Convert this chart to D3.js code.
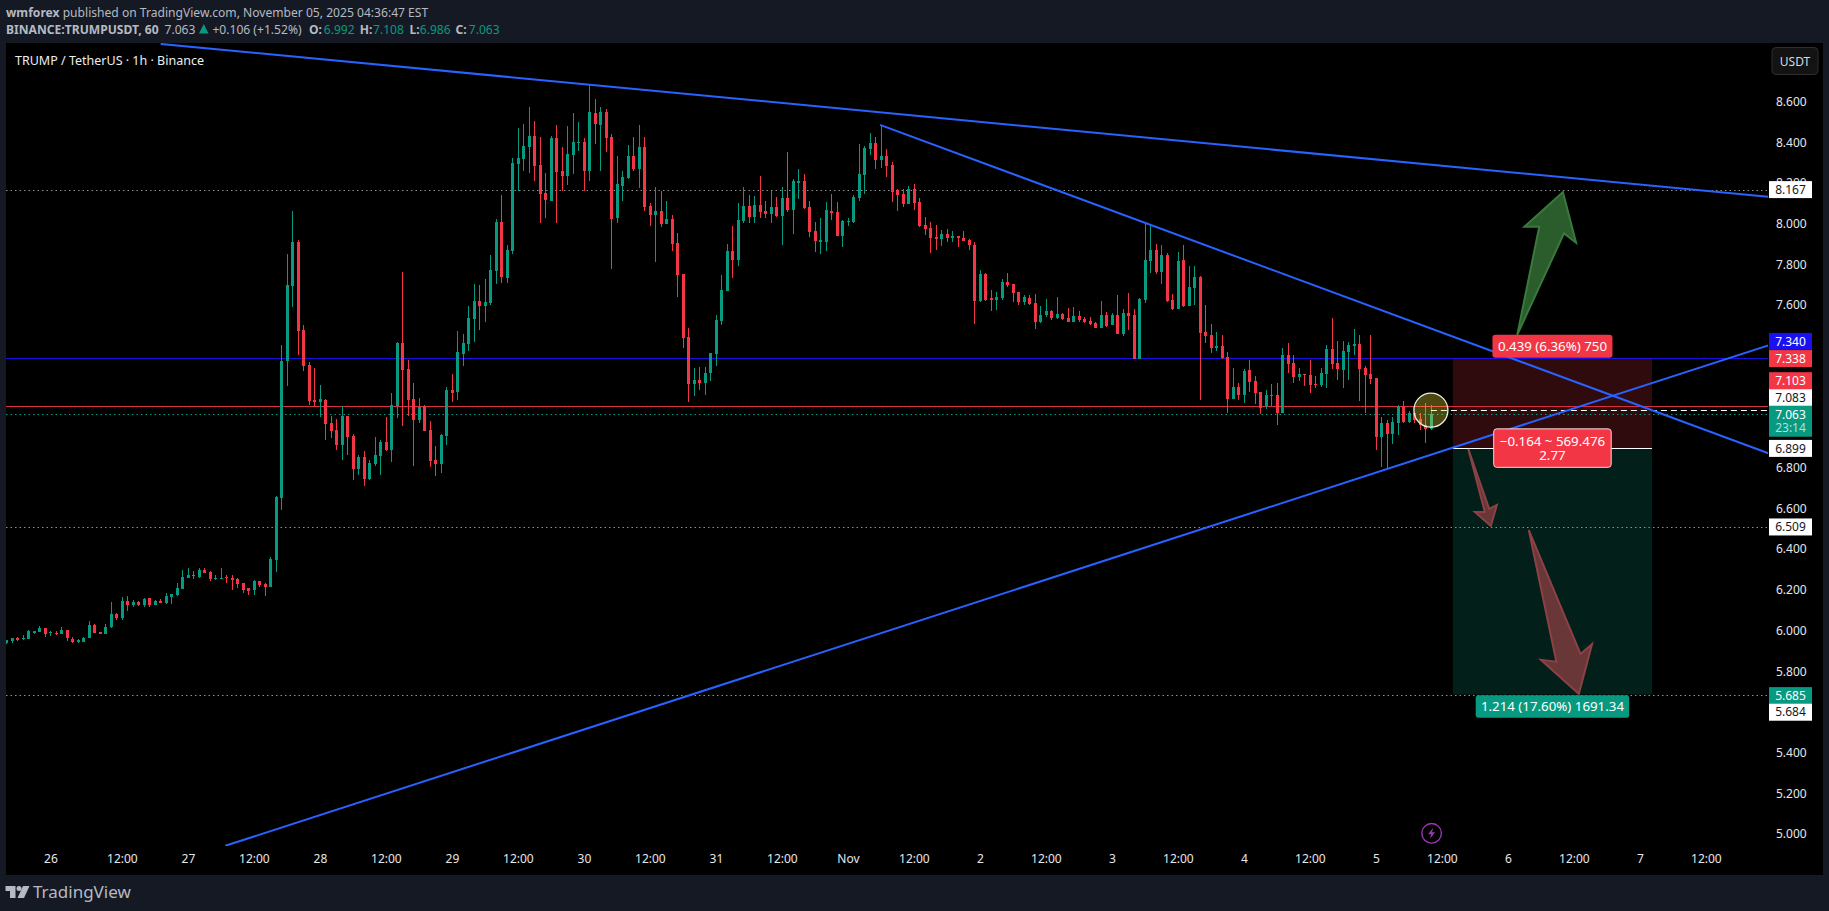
<!DOCTYPE html>
<html>
<head>
<meta charset="utf-8">
<title>TRUMP / TetherUS</title>
<script src="https://cdn.jsdelivr.net/npm/d3@7"></script>
<style>
  html, body { margin: 0; padding: 0; background: #151924; overflow: hidden; }
  text { font-family: "Noto Sans", sans-serif; }
  svg { display: block; }
</style>
</head>
<body>
<div id="chart"></div>
<script>
// hourly candles, oldest first
var opens = [
  5.939,5.948,5.963,5.959,5.959,5.994,5.994,6.014,5.988,5.990,
  5.984,6.003,5.959,5.948,5.944,5.961,6.028,5.994,5.984,6.017,
  6.081,6.063,6.146,6.126,6.141,6.126,6.161,6.126,6.146,6.135,
  6.167,6.176,6.205,6.259,6.274,6.263,6.297,6.288,6.254,6.254,
  6.265,6.259,6.254,6.234,6.210,6.199,6.245,6.228,6.214,6.346,
  6.651,7.324,7.693,7.909,7.477,7.306,7.133,7.122,7.133,7.020,
  6.986,6.911,7.055,6.957,6.793,6.853,6.744,6.818,6.858,6.926,
  6.888,7.102,7.413,7.286,7.139,7.035,7.102,6.986,6.839,6.818,
  6.957,7.182,7.172,7.359,7.408,7.531,7.620,7.595,7.610,7.767,
  8.008,7.733,7.865,8.293,8.317,8.376,8.431,8.288,8.150,8.111,
  8.421,8.259,8.234,8.337,8.396,8.401,8.259,8.543,8.485,8.548,
  8.426,8.027,8.185,8.224,8.332,8.268,8.376,8.087,8.042,8.062,
  7.998,8.023,7.905,7.752,7.443,7.212,7.231,7.217,7.266,7.359,
  7.521,7.669,7.865,7.821,8.013,8.087,8.032,8.091,8.062,8.047,
  8.082,8.037,8.126,8.067,8.204,8.209,8.082,7.964,7.914,7.909,
  8.062,8.057,7.939,8.008,8.008,8.126,8.239,8.367,8.396,8.312,
  8.332,8.288,8.165,8.145,8.096,8.170,8.106,7.993,7.978,7.934,
  7.924,7.949,7.929,7.939,7.929,7.919,7.895,7.620,7.752,7.634,
  7.625,7.634,7.713,7.703,7.664,7.615,7.634,7.610,7.516,7.551,
  7.571,7.536,7.556,7.536,7.516,7.546,7.531,7.521,7.511,7.487,
  7.551,7.502,7.551,7.457,7.561,7.551,7.336,7.625,7.816,7.870,
  7.762,7.846,7.625,7.580,7.821,7.595,7.684,7.738,7.467,7.453,
  7.389,7.398,7.344,7.138,7.197,7.158,7.281,7.227,7.172,7.104,
  7.158,7.158,7.069,7.354,7.315,7.246,7.261,7.256,7.212,7.207,
  7.261,7.384,7.315,7.281,7.369,7.398,7.408,7.290,7.261,7.241,
  6.951,7.020,6.966,7.020,7.104,7.025,7.068,7.040,7.009,6.992
];
var highs = [
  5.954,5.963,5.970,5.979,6.003,5.997,6.023,6.014,5.999,5.997,
  6.015,6.003,5.968,5.959,5.968,6.045,6.032,5.994,6.032,6.141,
  6.086,6.165,6.170,6.150,6.146,6.161,6.161,6.150,6.156,6.185,
  6.179,6.234,6.297,6.308,6.292,6.308,6.308,6.292,6.274,6.308,
  6.274,6.274,6.259,6.234,6.210,6.248,6.245,6.236,6.361,6.660,
  7.404,7.851,8.062,7.918,7.502,7.320,7.289,7.206,7.139,7.055,
  7.040,7.102,7.055,6.966,6.862,6.882,6.839,6.951,6.937,7.049,
  7.167,7.418,7.762,7.329,7.217,7.142,7.107,7.029,6.907,6.966,
  7.197,7.261,7.472,7.458,7.595,7.703,7.698,7.728,7.846,8.023,
  8.141,7.895,8.322,8.470,8.489,8.573,8.504,8.426,8.249,8.431,
  8.485,8.376,8.480,8.543,8.499,8.421,8.686,8.612,8.573,8.563,
  8.440,8.332,8.259,8.386,8.426,8.485,8.426,8.101,8.180,8.160,
  8.111,8.042,7.954,7.752,7.487,7.290,7.295,7.295,7.364,7.551,
  7.747,7.900,7.988,8.101,8.180,8.141,8.136,8.234,8.111,8.160,
  8.131,8.180,8.352,8.219,8.268,8.244,8.111,8.008,8.027,8.106,
  8.145,8.106,8.018,8.027,8.141,8.391,8.381,8.445,8.426,8.485,
  8.367,8.303,8.170,8.170,8.185,8.195,8.126,8.032,8.008,7.993,
  7.969,7.973,7.964,7.939,7.964,7.924,7.909,7.772,7.757,7.674,
  7.664,7.728,7.757,7.703,7.664,7.649,7.649,7.654,7.595,7.629,
  7.575,7.639,7.561,7.585,7.590,7.571,7.541,7.541,7.516,7.620,
  7.566,7.561,7.649,7.580,7.659,7.580,7.634,7.998,7.993,7.900,
  7.895,7.855,7.654,7.860,7.895,7.792,7.792,7.743,7.600,7.507,
  7.467,7.453,7.369,7.290,7.217,7.285,7.330,7.251,7.172,7.182,
  7.212,7.217,7.389,7.413,7.354,7.290,7.261,7.330,7.251,7.290,
  7.403,7.536,7.423,7.423,7.418,7.482,7.453,7.300,7.453,7.241,
  7.050,7.035,7.050,7.109,7.128,7.079,7.076,7.068,7.117,7.108
];
var lows = [
  5.936,5.939,5.948,5.954,5.959,5.984,5.994,5.970,5.974,5.979,
  5.984,5.950,5.941,5.941,5.944,5.961,5.988,5.981,5.984,6.010,
  6.054,6.052,6.095,6.114,6.123,6.116,6.117,6.126,6.137,6.132,
  6.132,6.172,6.205,6.259,6.254,6.259,6.283,6.245,6.248,6.254,
  6.236,6.199,6.210,6.186,6.176,6.176,6.216,6.170,6.214,6.288,
  6.593,7.202,7.589,7.355,7.275,7.107,7.102,7.049,6.937,6.946,
  6.888,6.839,6.862,6.740,6.764,6.709,6.740,6.809,6.764,6.882,
  6.827,7.044,7.006,7.055,6.807,7.020,6.980,6.804,6.758,6.775,
  6.911,7.123,7.133,7.300,7.374,7.418,7.477,7.516,7.600,7.703,
  7.708,7.708,7.851,8.160,8.259,8.249,8.209,8.003,8.027,8.111,
  8.003,8.160,8.190,8.244,8.357,8.160,8.209,8.391,8.259,8.352,
  7.777,8.003,8.111,8.219,8.259,8.175,8.062,7.988,7.811,7.983,
  7.998,7.865,7.639,7.389,7.123,7.153,7.182,7.158,7.227,7.300,
  7.502,7.669,7.733,7.792,8.003,8.003,8.003,8.027,8.027,8.003,
  8.032,7.895,8.057,7.949,8.121,8.072,7.934,7.860,7.851,7.865,
  8.018,7.939,7.885,7.988,8.003,8.111,8.145,8.337,8.268,8.273,
  8.229,8.106,8.062,8.082,8.096,8.067,7.983,7.944,7.855,7.870,
  7.890,7.909,7.909,7.885,7.914,7.870,7.507,7.615,7.620,7.571,
  7.575,7.625,7.688,7.615,7.600,7.600,7.600,7.482,7.511,7.541,
  7.526,7.531,7.526,7.516,7.516,7.516,7.511,7.502,7.487,7.487,
  7.492,7.502,7.457,7.448,7.477,7.336,7.336,7.610,7.757,7.752,
  7.703,7.615,7.575,7.580,7.590,7.595,7.600,7.133,7.413,7.364,
  7.374,7.335,7.069,7.138,7.133,7.118,7.172,7.113,7.064,7.089,
  7.104,7.010,7.069,7.266,7.217,7.227,7.202,7.168,7.192,7.197,
  7.192,7.285,7.231,7.192,7.231,7.354,7.128,7.069,7.212,6.887,
  6.804,6.789,6.917,6.961,7.020,7.020,7.022,6.986,6.924,6.986
];
var closes = [
  5.954,5.963,5.955,5.964,5.997,5.997,6.014,5.984,5.995,5.984,
  6.003,5.961,5.944,5.952,5.963,6.028,5.988,5.983,6.017,6.081,
  6.063,6.146,6.126,6.141,6.126,6.156,6.126,6.146,6.137,6.170,
  6.179,6.210,6.263,6.274,6.270,6.297,6.283,6.254,6.259,6.259,
  6.261,6.248,6.228,6.199,6.196,6.245,6.225,6.214,6.352,6.657,
  7.324,7.698,7.909,7.471,7.300,7.128,7.124,7.139,7.015,6.980,
  6.911,7.055,6.951,6.793,6.853,6.744,6.824,6.862,6.926,6.888,
  7.107,7.413,7.280,7.133,7.035,7.098,6.980,6.833,6.818,6.960,
  7.182,7.167,7.369,7.413,7.536,7.620,7.595,7.615,7.772,8.008,
  7.738,7.870,8.298,8.322,8.381,8.431,8.283,8.145,8.116,8.421,
  8.254,8.234,8.342,8.401,8.401,8.259,8.548,8.489,8.548,8.421,
  8.023,8.195,8.229,8.332,8.268,8.376,8.082,8.042,8.062,7.998,
  8.023,7.900,7.747,7.438,7.212,7.231,7.217,7.266,7.364,7.526,
  7.674,7.865,7.821,8.018,8.087,8.032,8.091,8.057,8.047,8.082,
  8.037,8.126,8.067,8.209,8.209,8.077,7.959,7.914,7.919,8.067,
  8.052,7.939,8.013,8.013,8.131,8.244,8.371,8.396,8.312,8.332,
  8.283,8.155,8.141,8.096,8.170,8.101,7.988,7.973,7.929,7.929,
  7.949,7.929,7.939,7.929,7.914,7.895,7.620,7.752,7.625,7.629,
  7.639,7.713,7.698,7.659,7.615,7.639,7.605,7.516,7.551,7.571,
  7.536,7.556,7.531,7.516,7.546,7.526,7.516,7.507,7.487,7.551,
  7.497,7.551,7.457,7.561,7.546,7.336,7.629,7.821,7.870,7.762,
  7.846,7.620,7.580,7.816,7.595,7.688,7.738,7.462,7.448,7.389,
  7.398,7.340,7.138,7.197,7.158,7.276,7.222,7.168,7.094,7.158,
  7.153,7.069,7.354,7.310,7.246,7.261,7.256,7.207,7.207,7.266,
  7.384,7.310,7.285,7.374,7.403,7.408,7.285,7.256,7.236,6.951,
  7.020,6.966,7.025,7.104,7.025,7.069,7.035,7.010,6.992,7.063
];

// axes. time ticks are counted in hourly bars from the first candle
var timeTickBars = [8,21,33,45,57,69,81,93,105,117,129,141,153,165,177,189,201,213,225,237,249,261,273,285,297,309];
var timeTickLabels = ["26","12:00","27","12:00","28","12:00","29","12:00","30","12:00","31","12:00","Nov","12:00","2","12:00","3","12:00","4","12:00","5","12:00","6","12:00","7","12:00"];
// 7.4, 7.2, 7.0 and 5.6 sit under the price tags in the picture
var priceTicks = [8.6,8.4,8.2,8.0,7.8,7.6,6.8,6.6,6.4,6.2,6.0,5.8,5.4,5.2,5.0];

// horizontal levels
var blueLevel = 7.340, redLevel = 7.103, lastPrice = 7.063, avgPrice = 7.083;
var dottedLevels = [8.167, 6.509, 5.685];
var stopPrice = 7.338, entryPrice = 6.899, targetPrice = 5.685, targetPrice2 = 5.684;

// drawings as [bar, price]
var upperTrend = [[28.05,8.883],[320.3,8.132]];
var midTrend = [[158.84,8.485],[320.5,6.870]];
var lowerTrend = [[39.8,4.942],[320.5,7.403]];
var greenArrow = [[274.7,7.453],[283.2,7.952],[285.4,7.906],[283.0,8.155],[276.0,7.985],[278.7,7.985]];
var smallRedArrow = [[265.8,6.892],[269.6,6.598],[271.0,6.617],[269.9,6.514],[267.0,6.583],[268.8,6.583]];
var bigRedArrow = [[276.8,6.494],[286.2,5.885],[288.3,5.933],[285.9,5.688],[279.0,5.856],[281.8,5.847]];
var positionBars = [263,299.2];
var markBar = 259, markPrice = 7.083;

var UP = "#089981", DOWN = "#f23645", TXT = "#e6e7ea";

var W = 1829, H = 911;
var svg = d3.select("#chart").append("svg").attr("width", W).attr("height", H);
var FS = 12;

var x = d3.scaleLinear().domain([0, 1]).range([6.4, 11.9]);
var y = d3.scaleLinear().domain([8.6, 5.0]).range([101.5, 834]);

// panes
svg.append("rect").attr("x", 6).attr("y", 43).attr("width", 1817).attr("height", 832).attr("fill", "#000");
svg.append("defs").append("clipPath").attr("id", "pane")
  .append("rect").attr("x", 6).attr("y", 43).attr("width", 1762).attr("height", 803);

var pane = svg.append("g").attr("clip-path", "url(#pane)");

var candles = opens.map(function (o, i) {
  return { i: i, o: o, h: highs[i], l: lows[i], c: closes[i] };
});

// risk / reward box goes under everything
pane.append("rect")
  .attr("x", x(positionBars[0])).attr("width", x(positionBars[1]) - x(positionBars[0]))
  .attr("y", y(stopPrice)).attr("height", y(entryPrice) - y(stopPrice))
  .attr("fill", "#f23645").attr("fill-opacity", 0.2);
pane.append("rect")
  .attr("x", x(positionBars[0])).attr("width", x(positionBars[1]) - x(positionBars[0]))
  .attr("y", y(entryPrice)).attr("height", y(targetPrice) - y(entryPrice))
  .attr("fill", "#089981").attr("fill-opacity", 0.2);

function hline(v, color, dash) {
  var l = pane.append("line")
    .attr("x1", 6).attr("x2", 1768)
    .attr("y1", Math.round(y(v)) + 0.5).attr("y2", Math.round(y(v)) + 0.5)
    .attr("stroke", color).attr("stroke-width", 1);
  if (dash) l.attr("stroke-dasharray", dash);
  return l;
}
dottedLevels.forEach(function (v) { hline(v, "#8f8f8f", "1.5,3"); });
hline(blueLevel, "#1a10e0");
hline(redLevel, "#d5313e");
hline(lastPrice, UP, "1.5,3");

// candles
pane.selectAll("line.wick").data(candles).enter().append("line")
  .attr("class", "wick")
  .attr("x1", function (d) { return Math.round(x(d.i)) + 0.5; })
  .attr("x2", function (d) { return Math.round(x(d.i)) + 0.5; })
  .attr("y1", function (d) { return y(d.h); })
  .attr("y2", function (d) { return y(d.l); })
  .attr("stroke", function (d) { return d.c >= d.o ? UP : DOWN; })
  .attr("shape-rendering", "crispEdges");
pane.selectAll("rect.body").data(candles).enter().append("rect")
  .attr("class", "body")
  .attr("x", function (d) { return Math.round(x(d.i)) - 1; })
  .attr("width", 3)
  .attr("y", function (d) { return y(Math.max(d.o, d.c)); })
  .attr("height", function (d) { return Math.max(1.5, Math.abs(y(d.o) - y(d.c))); })
  .attr("fill", function (d) { return d.c >= d.o ? UP : DOWN; })
  .attr("shape-rendering", "crispEdges");

// dashed line from the last bar, and the entry line of the box
pane.append("line")
  .attr("x1", x(markBar)).attr("x2", 1768)
  .attr("y1", Math.round(y(avgPrice)) + 0.5).attr("y2", Math.round(y(avgPrice)) + 0.5)
  .attr("stroke", "#fff").attr("stroke-dasharray", "6,4");
pane.append("line")
  .attr("x1", x(positionBars[0])).attr("x2", x(positionBars[1]))
  .attr("y1", Math.round(y(entryPrice)) + 0.5).attr("y2", Math.round(y(entryPrice)) + 0.5)
  .attr("stroke", "#fff");

// circle on the last bar
pane.append("circle")
  .attr("cx", x(markBar)).attr("cy", y(markPrice))
  .attr("r", 17)
  .attr("fill", "#ffeb3b").attr("fill-opacity", 0.3)
  .attr("stroke", "#f0f0e0").attr("stroke-width", 1.3);

// trend lines
var line = d3.line().x(function (d) { return x(d[0]); }).y(function (d) { return y(d[1]); });
[upperTrend, midTrend, lowerTrend].forEach(function (t) {
  pane.append("path").attr("d", line(t))
    .attr("fill", "none").attr("stroke", "#2962ff").attr("stroke-width", 2);
});

// arrows
function arrow(pts, fill, stroke) {
  pane.append("path").attr("d", line(pts) + "Z")
    .attr("fill", fill).attr("stroke", stroke).attr("stroke-width", 2).attr("stroke-linejoin", "miter");
}
arrow(greenArrow, "#2b5d2c", "#387a3c");
arrow(smallRedArrow, "#693737", "#8c4146");
arrow(bigRedArrow, "#693737", "#8c4146");

// price axis
var yAxisG = svg.append("g").attr("transform", "translate(1769,0)")
  .call(d3.axisRight(y).tickValues(priceTicks).tickSize(0).tickPadding(7).tickFormat(d3.format(".3f")));
yAxisG.select(".domain").remove();
yAxisG.selectAll("text").attr("fill", TXT).style("font-size", FS + "px").style("font-family", '"Noto Sans", sans-serif');

// time axis
var xAxisG = svg.append("g").attr("transform", "translate(0,846)")
  .call(d3.axisBottom(x).tickValues(timeTickBars).tickSize(0).tickPadding(8)
    .tickFormat(function (d, i) { return timeTickLabels[i]; }));
xAxisG.select(".domain").remove();
xAxisG.selectAll("text").attr("fill", TXT).style("font-size", FS + "px").style("font-family", '"Noto Sans", sans-serif');

// price tags on the axis. shift is how far the tag was pushed off its level
function priceTag(v, bg, fg, shift) {
  var cy = y(v) + (shift || 0);
  svg.append("rect").attr("x", 1769).attr("y", cy - 8.5).attr("width", 43).attr("height", 17).attr("fill", bg);
  svg.append("text").attr("x", 1790.5).attr("y", cy).attr("dy", "0.35em")
    .attr("text-anchor", "middle").attr("fill", fg).style("font-size", FS + "px").text(d3.format(".3f")(v));
}
priceTag(dottedLevels[0], "#fff", "#131722");
priceTag(blueLevel, "#1a10f0", "#fff", -16.5);
priceTag(stopPrice, DOWN, "#fff", 0.3);
priceTag(redLevel, DOWN, "#fff", -25.4);
priceTag(avgPrice, "#fff", "#131722", -12.5);
svg.append("rect").attr("x", 1769).attr("y", y(lastPrice) - 8.5).attr("width", 43).attr("height", 31).attr("fill", UP);
priceTag(lastPrice, UP, "#fff", 0.7);
svg.append("text").attr("x", 1790.5).attr("y", y(lastPrice) + 14).attr("dy", "0.35em")
  .attr("text-anchor", "middle").attr("fill", "#fff").attr("fill-opacity", 0.7).style("font-size", FS + "px").text("23:14");
priceTag(entryPrice, "#fff", "#131722", 0.8);
priceTag(dottedLevels[1], "#fff", "#131722");
priceTag(targetPrice, UP, "#fff", 1);
priceTag(targetPrice2, "#fff", "#131722", 17.4);

// position labels
function posLabel(cx, cy, w, h, fill, lines, border) {
  var r = svg.append("rect").attr("x", cx - w / 2).attr("y", cy - h / 2).attr("width", w).attr("height", h)
    .attr("rx", 3).attr("fill", fill);
  if (border) r.attr("stroke", "#f0d8da").attr("stroke-width", 1);
  lines.forEach(function (s, i) {
    svg.append("text").attr("x", cx).attr("y", cy + (i - (lines.length - 1) / 2) * 14.3).attr("dy", "0.36em")
      .attr("text-anchor", "middle").attr("fill", "#fff").style("font-size", "13.3px").text(s);
  });
}
var stopMid = x(positionBars[0]) + (x(positionBars[1]) - x(positionBars[0])) / 2;
posLabel(stopMid, y(stopPrice) - 12, 120, 23, DOWN, ["0.439 (6.36%) 750"]);
posLabel(stopMid, y(entryPrice) + 0.5, 117.5, 38.5, DOWN, ["\u22120.164 ~ 569.476", "2.77"], true);
posLabel(stopMid, y(targetPrice) + 12, 153.5, 22.5, UP, ["1.214 (17.60%) 1691.34"]);

// chart title and currency button
svg.append("text").attr("x", 15).attr("y", 61).attr("dy", "0.35em").attr("fill", "#eceef2")
  .style("font-size", "12.5px").text("TRUMP / TetherUS \u00b7 1h \u00b7 Binance");
svg.append("rect").attr("x", 1772).attr("y", 47.5).attr("width", 46).attr("height", 27).attr("rx", 4)
  .attr("fill", "#131313").attr("stroke", "#2e2e2e");
svg.append("text").attr("x", 1795).attr("y", 61.5).attr("dy", "0.35em").attr("text-anchor", "middle")
  .attr("fill", "#d8dade").style("font-size", FS + "px").text("USDT");

// lightning icon
var icon = svg.append("g").attr("transform", "translate(1431.6,833.3)");
icon.append("circle").attr("r", 9.8).attr("fill", "none").attr("stroke", "#9c36b5").attr("stroke-width", 1.4);
icon.append("path").attr("d", "M1.5,-5.5 L-3.5,1 L-0.5,1 L-1.5,5.5 L3.5,-1 L0.5,-1 Z").attr("fill", "#9c36b5");

// header
var head = svg.append("g").attr("fill", "#b6b9c3").style("font-size", "12.1px");
var h1 = head.append("text").attr("x", 6).attr("y", 17);
h1.append("tspan").attr("font-weight", 700).text("wmforex");
h1.append("tspan").text(" published on TradingView.com, November 05, 2025 04:36:47 EST");

function headText(px, s, bold, color) {
  var t = head.append("text").attr("x", px).attr("y", 33.5).text(s);
  if (bold) t.attr("font-weight", 700);
  if (color) t.attr("fill", color);
}
headText(6, "BINANCE:TRUMPUSDT, 60", true);
headText(164.5, "7.063");
head.append("path").attr("d", "M199,33.5 L208.5,33.5 L203.75,24 Z").attr("fill", UP);
headText(212.4, "+0.106 (+1.52%)");
headText(309, "O:", true); headText(323.8, "6.992", false, UP);
headText(359.7, "H:", true); headText(373, "7.108", false, UP);
headText(409.5, "L:", true); headText(419.8, "6.986", false, UP);
headText(455.4, "C:", true); headText(468.8, "7.063", false, UP);

// footer logo
var logo = svg.append("g").attr("fill", "#b6b9c3");
logo.append("path").attr("d", "M5.5,886 H15.5 V898 H10 V891 H5.5 Z");
logo.append("circle").attr("cx", 19).attr("cy", 888.5).attr("r", 2.5);
logo.append("path").attr("d", "M23,886 H29.5 L24,898 H17.5 Z");
svg.append("text").attr("x", 33).attr("y", 892).attr("dy", "0.36em").attr("fill", "#b6b9c3")
  .style("font-size", "17px").text("TradingView");
</script>
</body>
</html>
